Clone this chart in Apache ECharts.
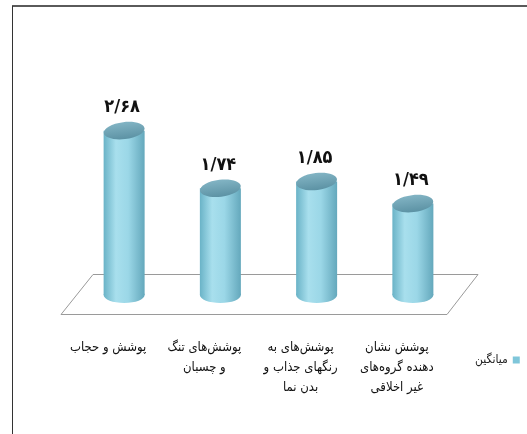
<!DOCTYPE html>
<html>
<head>
<meta charset="utf-8">
<script src="https://cdn.jsdelivr.net/npm/echarts@6/dist/echarts.min.js"></script>
<style>
  html,body{margin:0;padding:0;background:#fff;}
  #chart{width:527px;height:434px;}
</style>
</head>
<body>
<div id="chart"></div>
<script>
// categories (Persian), values, series name
const categories = [
    'پوشش و حجاب',
    'پوشش‌های تنگ\nو چسبان',
    'پوشش‌های به\nرنگهای جذاب و\nبدن نما',
    'پوشش نشان\nدهنده گروه‌های\nغیر اخلاقی'
];
const values = [2.68, 1.74, 1.85, 1.49];
const seriesName = 'میانگین';

const faDigits = '۰۱۲۳۴۵۶۷۸۹';
function toFa(v){
    return v.toFixed(2).replace('.', '/').replace(/\d/g, d => faDigits[d]);
}

const font = "'DejaVu Sans Condensed', 'DejaVu Sans', sans-serif";
let myChart = echarts.init(document.getElementById('chart'), null, {renderer: 'canvas'});

let option = {
    backgroundColor: '#fff',
    animation: false,
    grid: {left: 76, right: 66, top: 111, bottom: 139},
    legend: {
        data: [seriesName],
        left: 470,
        top: 349,
        align: 'right',
        icon: 'rect',
        itemWidth: 7,
        itemHeight: 7,
        itemGap: 3,
        textStyle: {fontFamily: font, fontSize: 12, color: '#222'}
    },
    graphic: [
        // frame (top and left edges only, the rest is cropped)
        {type: 'line', z: -10, shape: {x1: 12, y1: 6, x2: 527, y2: 6}, style: {stroke: '#5a5a5a', lineWidth: 2}},
        {type: 'line', z: -10, shape: {x1: 12.5, y1: 6, x2: 12.5, y2: 434}, style: {stroke: '#333', lineWidth: 1}},
        // floor
        {type: 'polygon', z: -5, shape: {points: [[93, 274.5], [478, 274.5], [447, 314.5], [61, 314.5]]},
         style: {fill: '#fff', stroke: '#9a9a9a', lineWidth: 1}}
    ],
    xAxis: {
        type: 'category',
        data: categories,
        axisLine: {show: false},
        axisTick: {show: false},
        axisLabel: {
            interval: 0,
            margin: 43,
            fontFamily: font,
            fontSize: 13,
            lineHeight: 20,
            color: '#111',
            padding: [0, 32, 0, 0]
        }
    },
    yAxis: {type: 'value', min: 0, max: 3, show: false},
    series: [{
        name: seriesName,
        type: 'custom',
        itemStyle: {color: '#7fc6da'},
        data: values.map((v, i) => [i, v]),
        encode: {x: 0, y: 1},
        renderItem: function(params, api){
            const top = api.coord([api.value(0), api.value(1)]);
            const base = api.coord([api.value(0), 0]);
            const rx = api.size([1, 0])[0] * 0.213;
            const cx = top[0];
            const body = new echarts.graphic.LinearGradient(0, 0, 1, 0, [
                {offset: 0, color: '#6ab3c7'},
                {offset: 0.3, color: '#a8dfed'},
                {offset: 0.6, color: '#9bd7e7'},
                {offset: 1, color: '#64a8bc'}
            ]);
            const cap = new echarts.graphic.LinearGradient(0, 0, 0, 1, [
                {offset: 0, color: '#82b4c4'},
                {offset: 1, color: '#5c92a4'}
            ]);
            return {
                type: 'group',
                children: [
                    {type: 'ellipse', shape: {cx: cx, cy: base[1], rx: rx, ry: 8}, style: {fill: body}},
                    {type: 'rect', shape: {x: cx - rx, y: top[1], width: rx * 2, height: base[1] - top[1]}, style: {fill: body}},
                    {type: 'ellipse', x: cx, y: top[1], rotation: 0.12,
                     shape: {cx: 0, cy: 0, rx: rx, ry: 8.5}, style: {fill: cap}},
                    {type: 'text', x: cx - 2, y: top[1] - 23,
                     style: {text: toFa(api.value(1)), fontFamily: font, fontSize: 18, fontWeight: 'bold',
                             fill: '#111', align: 'center', verticalAlign: 'middle'}}
                ]
            };
        }
    }]
};

myChart.setOption(option);
</script>
</body>
</html>
